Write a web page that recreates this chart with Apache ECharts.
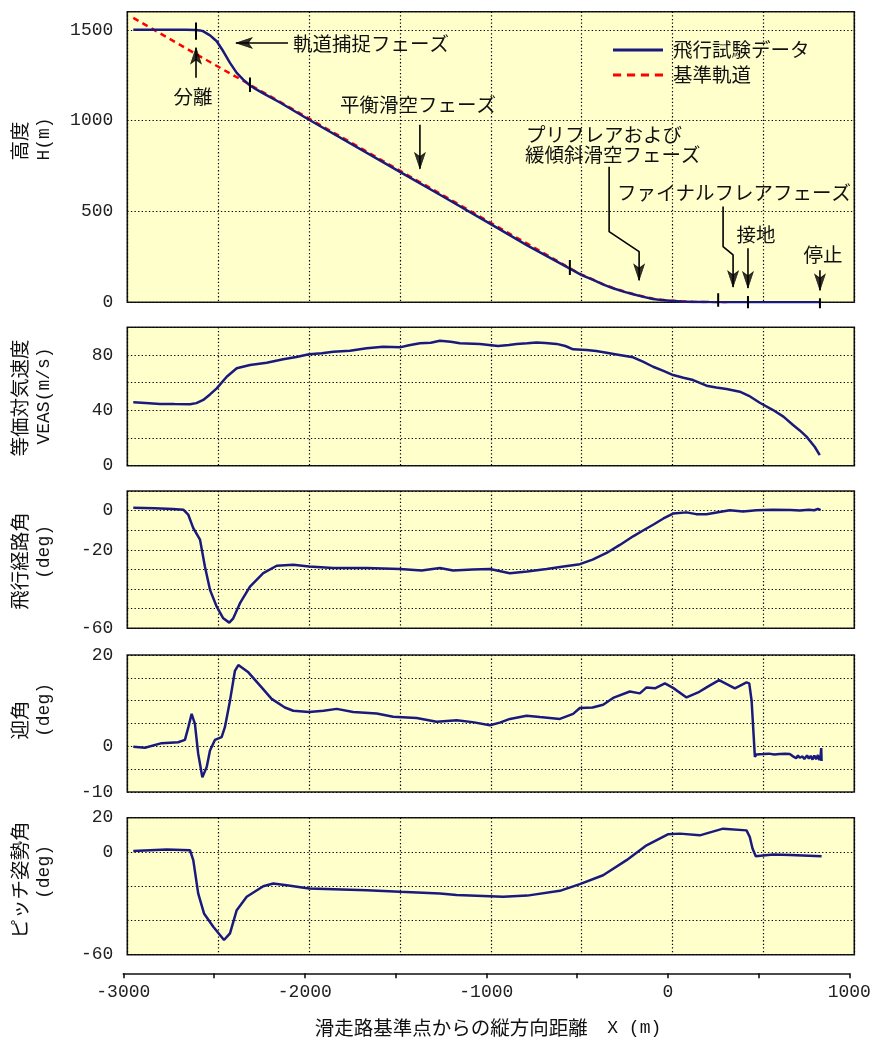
<!DOCTYPE html>
<html><head><meta charset="utf-8">
<script src="https://cdn.jsdelivr.net/npm/echarts@6/dist/echarts.min.js"></script>
<style>html,body{margin:0;padding:0;background:#fff}#c{width:877px;height:1044px}</style>
</head><body><div id="c"></div>
<script>
// ---------------- DATA ----------------
const altX = [-2967,-2800,-2680,-2622,-2600,-2582,-2545,-2508,-2472,-2435,-2398,-2362,-2325,-2290,-2252,-2160,-2000,-1500,-1280,-1000,-800,-565,-500,-437,-380,-327,-270,-217,-160,-107,-60,-15,50,113,200,300,450,600,811];
const altH = [1500,1500,1500,1499,1497,1492,1470,1437,1382,1318,1263,1226,1194,1172,1150,1100,1005,718,592,430,313,185,150,123,97,77,59,44,30,18,12,9,5,2,1,0,0,0,0];

const refX = [-2967,-2600,-2325,-2000,-1500,-1000,-565,-500,-437,-380,-327,-270,-217,-160,-107,-60,-15,50,113,200,300];
const refH = [1566,1354,1198,1012,725,438,188,152,125,99,79,61,46,32,20,14,10,6,3,1,0];

const veasX = [-2967,-2900,-2820,-2740,-2655,-2620,-2582,-2545,-2508,-2453,-2398,-2325,-2233,-2142,-2070,-2000,-1930,-1867,-1775,-1683,-1592,-1500,-1450,-1390,-1330,-1280,-1220,-1170,-1060,-960,-900,-858,-800,-748,-700,-638,-590,-547,-473,-420,-363,-300,-217,-160,-107,-50,3,60,113,187,240,297,370,420,480,553,610,663,700,737,782,810];
const veasV = [45.8,45.3,44.6,44.5,44.4,45.2,47.5,51.5,55.9,64.3,70.4,72.8,74.4,76.9,78.5,80.5,81.3,82.4,83.1,84.8,86,85.5,87,88.4,88.8,90.3,89.5,88.4,88,86.5,87.2,88,88.5,89,88.6,88,86.5,84.1,83.6,82.8,81.6,80.2,78.3,75,71.5,68.5,65.5,63.6,61.9,57.8,56.5,55.4,53.5,50.5,45.5,40.2,35.5,29.4,25.5,21,13.7,7.7];

const gamX = [-2967,-2850,-2750,-2692,-2665,-2637,-2600,-2573,-2545,-2508,-2472,-2439,-2417,-2380,-2325,-2252,-2178,-2087,-2000,-1867,-1683,-1500,-1381,-1280,-1207,-1100,-1005,-895,-800,-693,-600,-510,-440,-363,-290,-217,-160,-107,-50,3,77,130,187,250,315,388,462,550,650,700,750,780,800,815];
const gamV = [1.4,1.2,0.8,0.5,-2,-8.9,-14.8,-28.5,-40.4,-49,-54.9,-57.1,-54.9,-47.2,-38.7,-31.9,-28.1,-27.6,-28.5,-29.3,-29.3,-29.8,-30.5,-29.3,-30.5,-30,-29.8,-31.9,-31,-29.8,-28.5,-27.3,-25,-21.6,-17.5,-13.1,-10,-7.2,-4,-1.5,-0.9,-1.8,-1.9,-0.8,0.2,-0.5,0.2,0.4,0.3,0.1,0.5,0.2,0.9,0.3];

const alpX = [-2967,-2903,-2811,-2720,-2683,-2664,-2646,-2628,-2610,-2587,-2563,-2545,-2518,-2481,-2463,-2435,-2408,-2389,-2334,-2261,-2206,-2133,-2087,-2000,-1920,-1848,-1757,-1628,-1537,-1408,-1298,-1188,-1100,-1005,-950,-895,-803,-730,-620,-547,-510,-440,-382,-327,-235,-180,-143,-97,-42,3,77,141,187,256,343,407,422,435,453,462,500,530,560,590,620,645,663,680,690,700,715,725,740,750,760,770,780,790,800,808,815,818,820];
const alpV = [-0.1,-0.3,0.7,0.9,1.4,4.2,7.1,4.9,-1.6,-6.8,-4.5,-0.9,1.4,2.0,4.2,10,16.5,17.8,16.2,12.9,10.4,8.5,7.8,7.5,7.8,8.2,7.5,7.2,6.5,6.2,5.4,5.7,5.3,4.6,5.2,6.0,6.7,6.4,6.0,7.1,8.4,8.5,9.1,10.6,12.0,11.6,12.9,12.7,13.8,12.8,10.7,11.8,12.9,14.5,12.7,14.0,13.8,10,-2.3,-1.8,-1.7,-1.6,-1.8,-1.7,-1.6,-1.7,-2.2,-2.6,-2.0,-2.5,-2.2,-2.8,-2.0,-2.7,-2.1,-2.9,-2.0,-2.8,-1.9,-3.0,-2.0,-0.4,-3.2];

const thX = [-2967,-2783,-2655,-2637,-2610,-2578,-2527,-2468,-2435,-2398,-2343,-2252,-2197,-2123,-2000,-1683,-1500,-1280,-1188,-932,-800,-620,-510,-382,-253,-143,-26,40,150,278,407,425,440,458,553,650,750,820];
const thV = [0.6,1.4,1.0,-4.8,-24.2,-35.9,-43.7,-51.4,-47.5,-34.0,-26.2,-20.0,-18.4,-19.4,-21.3,-22.3,-23.3,-24.2,-25.2,-26.2,-25.5,-22.7,-18.8,-13.6,-4.8,3.9,10.3,10.7,9.7,13.6,12.6,8.7,2,-2.5,-1.5,-1.8,-2.2,-2.5];

// axis ticks / labels shown
const xLabels = [-3000,-2000,-1000,0,1000];
const altLabels = [0,500,1000,1500];
const veasLabels = [0,40,80];
const gamLabels = [0,-20,-60];
const alpLabels = [20,0,-10];
const thLabels = [20,0,-60];

// annotation marks on altitude plot (data coordinates)
const tickBarX  = [-2622,-2325,-565,251,415,811];
const tickBarLo = [1446,1158,150,-24,-33,-33];
const tickBarHi = [1540,1238,233,50,35,22];
const arrows = [
  [[-2622,1237],[-2622,1446]],
  [[-2116,1428],[-2446,1428]],
  [[-1390,978],[-1390,691]],
  [[-349,746],[-349,389],[-184,279],[-184,77]],
  [[278,527],[278,307],[333,261],[333,40]],
  [[415,298],[415,35]],
  [[811,177],[811,22]]
];
const annTexts = [
  {t:'軌道捕捉フェーズ', x:293, y:44, a:'left'},
  {t:'分離', x:193, y:97, a:'center'},
  {t:'平衡滑空フェーズ', x:340, y:105, a:'left'},
  {t:'プリフレアおよび', x:526, y:135, a:'left'},
  {t:'緩傾斜滑空フェーズ', x:525, y:155, a:'left'},
  {t:'ファイナルフレアフェーズ', x:617, y:193, a:'left'},
  {t:'接地', x:756, y:235, a:'center'},
  {t:'停止', x:823, y:255, a:'center'}
];
const yNames = [
  ['高度','H(m)'],
  ['等価対気速度','VEAS(m/s)'],
  ['飛行経路角','(deg)'],
  ['迎角','(deg)'],
  ['ピッチ姿勢角','(deg)']
];
const xName = '滑走路基準点からの縦方向距離　';
const xNameUnit = 'X (m)';

// ---------------- LAYOUT ----------------
const JP = '"Noto Sans CJK JP","Noto Sans",sans-serif';
const MONO = '"Liberation Mono","DejaVu Sans Mono",monospace';
const BLUE = '#1a1a7e';
const L = 127.3, R = 877 - 854.3;
const panels = [
  {top:11.7, h:290.6, min:0, max:1600, iv:500, lab:altLabels},
  {top:327.3, h:138.4, min:0, max:100, iv:20, lab:veasLabels},
  {top:491, h:137.3, min:-60, max:10, iv:10, lab:gamLabels},
  {top:655, h:137, min:-10, max:20, iv:5, lab:alpLabels},
  {top:817.7, h:137, min:-60, max:20, iv:20, lab:thLabels}
];
const nameY = [[141,139],[398,396],[561,552],[720,710],[880,872]];

const zip = (xs, ys) => xs.map((x, i) => [x, ys[i]]);
const dot = {color:'#000', width:1.2, type:[1.3,2.3]};

const grids = panels.map(p => ({left:L, right:R, top:p.top, height:p.h, show:true,
  backgroundColor:'#ffffcc', borderColor:'#1a1a1a', borderWidth:1.6}));
grids.push({left:123.3, right:877-849.3, top:963, height:10.3, show:false});

const xAxes = panels.map((p, i) => ({type:'value', gridIndex:i, min:-3000, max:1000, interval:500,
  axisLine:{show:false}, axisTick:{show:false}, axisLabel:{show:false}, splitLine:{show:true, lineStyle:dot}}));
xAxes.push({type:'value', gridIndex:5, min:-3000, max:1000, interval:500, position:'bottom',
  axisLine:{show:true, onZero:false, lineStyle:{color:'#111', width:1.6}},
  axisTick:{show:true, length:5, lineStyle:{color:'#111', width:1.6}},
  splitLine:{show:false},
  axisLabel:{margin:10, fontFamily:MONO, fontSize:18, color:'#222',
    formatter: v => xLabels.includes(v) ? String(v) : ''}});

const yAxes = panels.map((p, i) => ({type:'value', gridIndex:i, min:p.min, max:p.max, interval:p.iv,
  axisLine:{show:false}, axisTick:{show:false}, splitLine:{show:true, lineStyle:dot},
  axisLabel:{margin:14, fontFamily:MONO, fontSize:18, color:'#222',
    formatter: v => p.lab.includes(v) ? String(v) : ''}}));
yAxes.push({type:'value', gridIndex:5, min:0, max:1, show:false});

// scales for arrowhead placement (px per data unit in the altitude panel)
const PXX = (854.3 - 127.3) / 4000, PXY = 290.6 / 1600, HALF = 8;

const series = [];
series.push({name:'基準軌道', type:'line', xAxisIndex:0, yAxisIndex:0, data:zip(refX, refH),
  symbol:'none', lineStyle:{color:'#ff0000', width:2.4, type:[6,4.5]}, itemStyle:{color:'#ff0000'}, z:2});
series.push({name:'飛行試験データ', type:'line', xAxisIndex:0, yAxisIndex:0, data:zip(altX, altH),
  symbol:'none', lineStyle:{color:BLUE, width:2.5}, itemStyle:{color:BLUE}, z:3});
[[veasX,veasV],[gamX,gamV],[alpX,alpV],[thX,thV]].forEach((d, k) => {
  series.push({name:'s'+(k+1), type:'line', xAxisIndex:k+1, yAxisIndex:k+1, data:zip(d[0], d[1]),
    symbol:'none', lineStyle:{color:BLUE, width:2.5}, itemStyle:{color:BLUE}, z:3});
});
// tick bars
tickBarX.forEach((x, i) => {
  series.push({name:'tick'+i, type:'line', xAxisIndex:0, yAxisIndex:0, clip:false, silent:true,
    data:[[x, tickBarLo[i]],[x, tickBarHi[i]]], symbol:'none',
    lineStyle:{color:'#000', width:2}, z:5});
});
// arrows
const heads = [];
arrows.forEach((pts, i) => {
  const n = pts.length, a = pts[n-2], b = pts[n-1];
  const dxp = (b[0]-a[0]) * PXX, dyp = (b[1]-a[1]) * PXY;
  const len = Math.hypot(dxp, dyp);
  const cx = b[0] - (dxp/len) * HALF / PXX, cy = b[1] - (dyp/len) * HALF / PXY;
  let rot = 0;
  if (Math.abs(dyp) > Math.abs(dxp)) rot = dyp > 0 ? 0 : 180; else rot = dxp < 0 ? 90 : -90;
  const shaft = pts.slice(0, n-1).concat([[cx, cy]]);
  series.push({name:'arrow'+i, type:'line', xAxisIndex:0, yAxisIndex:0, clip:false, silent:true,
    data:shaft, symbol:'none', lineStyle:{color:'#000', width:1.6}, z:5});
  heads.push({value:[cx, cy], symbolRotate:rot});
});
series.push({name:'heads', type:'scatter', xAxisIndex:0, yAxisIndex:0, clip:false, silent:true,
  symbol:'arrow', symbolSize:[8,16], data:heads, itemStyle:{color:'#000', borderColor:'#000', borderWidth:0.8}, z:6});

const graphics = [];
annTexts.forEach(t => graphics.push({type:'text', x:t.x, y:t.y, z:100, silent:true,
  style:{text:t.t, fontFamily:JP, fontSize:19.5, fill:'#111', align:t.a, verticalAlign:'middle'}}));
yNames.forEach((nm, i) => {
  graphics.push({type:'text', x:20, y:nameY[i][0], rotation:Math.PI/2, z:100, silent:true,
    style:{text:nm[0], fontFamily:JP, fontSize:19.5, fill:'#111', align:'center', verticalAlign:'middle'}});
  graphics.push({type:'text', x:44.5, y:nameY[i][1], rotation:Math.PI/2, z:100, silent:true,
    style:{text:nm[1], fontFamily:MONO, fontSize:18, fill:'#111', align:'center', verticalAlign:'middle'}});
});
graphics.push({type:'text', x:488, y:1028, z:100, silent:true,
  style:{text:'{a|' + xName + '}{b|' + xNameUnit + '}', align:'center', verticalAlign:'middle',
    rich:{a:{fontFamily:JP, fontSize:19.5, fill:'#111'}, b:{fontFamily:MONO, fontSize:18, fill:'#111'}}}});

const chart = echarts.init(document.getElementById('c'), null, {renderer:'canvas'});
chart.setOption({
  backgroundColor:'#ffffff',
  animation:false,
  grid:grids, xAxis:xAxes, yAxis:yAxes, series:series, graphic:graphics,
  legend:{
    data:[
      {name:'飛行試験データ', icon:'path://M0,0h50v3h-50z'},
      {name:'基準軌道', icon:'path://M0,0h8v3h-8zM13.7,0h8v3h-8zM27.4,0h8v3h-8zM41.1,0h8v3h-8z'}
    ],
    orient:'vertical', left:608, top:35,
    itemWidth:50, itemHeight:14, itemGap:5, selectedMode:false, symbolKeepAspect:true,
    textStyle:{fontFamily:JP, fontSize:19.5, color:'#111', lineHeight:20, padding:[0,0,0,5]}}
});
</script></body></html>
